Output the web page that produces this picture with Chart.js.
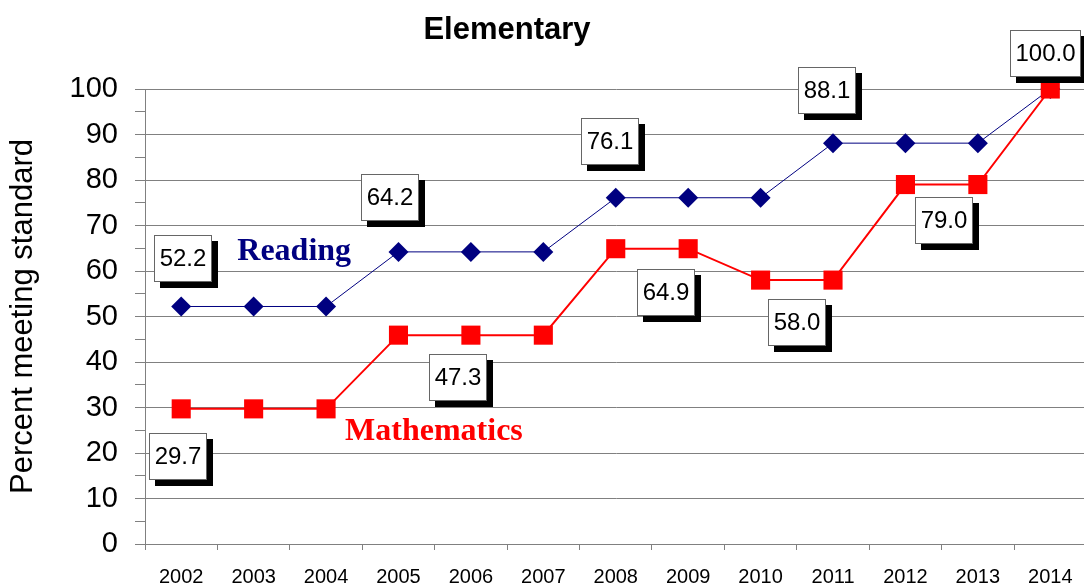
<!DOCTYPE html>
<html>
<head>
<meta charset="utf-8">
<script src="https://cdn.jsdelivr.net/npm/chart.js@4/dist/chart.umd.min.js"></script>
<style>
  html, body { margin: 0; padding: 0; background: #fff; overflow: hidden; }
  #wrap { width: 1100px; height: 584px; }
</style>
</head>
<body>
<div id="wrap"><canvas id="c" width="1100" height="584"></canvas></div>
<script>
// ---- data ----
const years = ['2002','2003','2004','2005','2006','2007','2008','2009','2010','2011','2012','2013','2014'];
const readingValues = [52.2, 52.2, 52.2, 64.2, 64.2, 64.2, 76.1, 76.1, 76.1, 88.1, 88.1, 88.1, 100.0];
const mathValues    = [29.7, 29.7, 29.7, 45.9, 45.9, 45.9, 64.9, 64.9, 58.0, 58.0, 79.0, 79.0, 100.0];
const yTickValues   = [0, 10, 20, 30, 40, 50, 60, 70, 80, 90, 100];
const labelTexts    = ['52.2', '64.2', '76.1', '88.1', '100.0', '29.7', '47.3', '64.9', '58.0', '79.0'];

// ---- layout of callouts (category index, value units) ----
const labelAnchors = [
  [0.03, 62.7], [2.88, 76.1], [5.92, 88.5], [8.91, 99.6], [11.94, 107.7],
  [-0.05, 19.3], [3.82, 36.7], [6.69, 55.3], [8.50, 48.6], [10.53, 71.1]
];
const seriesNameAnchors = { Reading: [1.56, 64.3], Mathematics: [3.49, 24.6] };

const NAVY = '#000080', RED = '#ff0000', GRID = '#808080';
const SANS = '"Liberation Sans", Arial, sans-serif';
const SERIF = '"Liberation Serif", "Times New Roman", serif';

const annotate = {
  id: 'annotate',
  afterDraw(chart) {
    const ctx = chart.ctx, xs = chart.scales.x, ys = chart.scales.y;
    const px = i => xs.getPixelForValue(0) + i * (xs.getPixelForValue(1) - xs.getPixelForValue(0));
    ctx.save();
    // title
    ctx.fillStyle = '#000';
    ctx.font = 'bold 31px ' + SANS;
    ctx.textAlign = 'center';
    ctx.textBaseline = 'alphabetic';
    ctx.fillText('Elementary', 507, 39);

    // series names
    ctx.textBaseline = 'middle';
    ctx.font = 'bold 32px ' + SERIF;
    ctx.fillStyle = NAVY;
    ctx.fillText('Reading', px(seriesNameAnchors.Reading[0]), ys.getPixelForValue(seriesNameAnchors.Reading[1]));
    ctx.fillStyle = RED;
    ctx.fillText('Mathematics', px(seriesNameAnchors.Mathematics[0]), ys.getPixelForValue(seriesNameAnchors.Mathematics[1]));

    // callout boxes
    ctx.font = '24px ' + SANS;
    labelTexts.forEach((t, k) => {
      const cx = px(labelAnchors[k][0]);
      const cy = ys.getPixelForValue(labelAnchors[k][1]);
      const w = Math.round(ctx.measureText(t).width + 11);
      const h = 47;
      const x0 = Math.round(cx - w / 2), y0 = Math.round(cy - h / 2);
      ctx.fillStyle = '#000';
      ctx.fillRect(x0 + 6, y0 + 6, w, h);
      ctx.fillStyle = '#fff';
      ctx.fillRect(x0, y0, w, h);
      ctx.strokeStyle = '#666';
      ctx.lineWidth = 1;
      ctx.strokeRect(x0 + 0.5, y0 + 0.5, w - 1, h - 1);
      ctx.fillStyle = '#000';
      ctx.textAlign = 'center';
      ctx.fillText(t, x0 + w / 2, y0 + h / 2 + 1);
    });
    ctx.restore();
  }
};

new Chart(document.getElementById('c'), {
  type: 'line',
  data: {
    labels: years,
    datasets: [
      {
        label: 'Mathematics',
        data: mathValues,
        borderColor: RED,
        backgroundColor: RED,
        borderWidth: 2,
        pointStyle: 'rect',
        pointRadius: 13.5,
        pointBorderWidth: 0,
        pointBackgroundColor: RED,
        tension: 0,
        clip: false,
        order: 0
      },
      {
        label: 'Reading',
        data: readingValues,
        borderColor: NAVY,
        backgroundColor: NAVY,
        borderWidth: 1,
        pointStyle: 'rectRot',
        pointRadius: 10,
        pointBorderWidth: 0,
        pointBackgroundColor: NAVY,
        tension: 0,
        clip: false,
        order: 1
      }
    ]
  },
  options: {
    responsive: false,
    animation: false,
    layout: { padding: { left: 0, top: 89, right: 6, bottom: 0 } },
    plugins: {
      legend: { display: false },
      title: { display: false },
      tooltip: { enabled: false }
    },
    scales: {
      x: {
        type: 'category',
        offset: true,
        grid: { offset: true, drawOnChartArea: false, drawTicks: true, tickLength: 6, color: GRID, tickColor: GRID },
        border: { display: true, color: GRID, width: 1 },
        ticks: { color: '#000', font: { family: SANS, size: 20 }, padding: 15, maxRotation: 0, autoSkip: false },
        afterFit: s => { s.height = 40; }
      },
      y: {
        min: 0,
        max: 100,
        afterBuildTicks: s => {
          const t = [];
          for (let v = 0; v <= 100; v += 5) t.push({ value: v });
          s.ticks = t;
        },
        ticks: {
          autoSkip: false,
          color: '#000',
          font: { family: SANS, size: 29 },
          padding: 17,
          callback: v => (yTickValues.includes(v) ? String(v) : '')
        },
        grid: {
          color: c => (c.tick && yTickValues.includes(c.tick.value) ? GRID : 'rgba(0,0,0,0)'),
          tickColor: GRID,
          tickLength: 10,
          lineWidth: 1
        },
        border: { display: true, color: GRID, width: 1 },
        title: {
          display: true,
          text: 'Percent meeting standard',
          color: '#000',
          font: { family: SANS, size: 31 },
          padding: { top: 5, bottom: 0 }
        },
        afterFit: s => { s.width = 145; }
      }
    }
  },
  plugins: [annotate]
});
</script>
</body>
</html>
